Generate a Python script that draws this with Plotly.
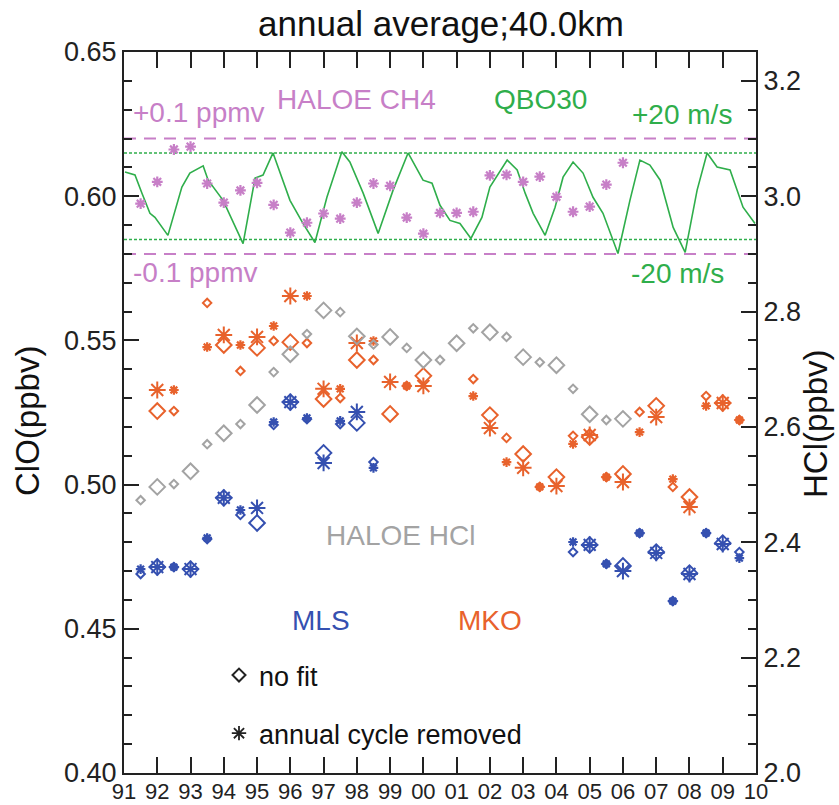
import plotly.graph_objects as go

# ---------------- data ----------------
# QBO30 zonal wind (m/s)
qbo_year = [1991.03, 1991.33, 1991.54, 1991.78, 1991.93, 1992.32, 1992.74, 1992.98, 1993.38, 1993.53,
            1993.98, 1994.58, 1994.94, 1995.18, 1995.48, 1995.99, 1996.38, 1996.74, 1997.10, 1997.55,
            1997.79, 1998.19, 1998.64, 1999.09, 1999.54, 1999.99, 2000.26, 2000.50, 2000.80, 2001.10,
            2001.43, 2001.76, 2002.00, 2002.52, 2002.82, 2003.06, 2003.30, 2003.66, 2003.96, 2004.20,
            2004.50, 2004.80, 2005.10, 2005.40, 2005.85, 2006.21, 2006.51, 2006.81, 2007.12, 2007.51,
            2007.87, 2008.23, 2008.53, 2008.83, 2009.22, 2009.61, 2009.97]
qbo_u = [11.2, 9.8, 1.4, -7.9, -9.8, -18.1, 4.2, 10.7, 14.0, 7.4,
         -1.9, -21.9, 8.4, 9.8, 20.0, -1.9, -12.6, -21.4, -0.5, 20.5,
         15.8, 1.4, -17.2, 2.8, 20.0, 7.4, 6.0, -4.2, -11.2, -12.6,
         -19.5, -9.8, 4.2, 16.7, 12.1, 1.4, -7.9, -18.1, -5.1, 8.8,
         15.8, 10.7, -0.5, -7.9, -26.5, -1.9, 16.7, 14.4, 7.4, -14.4,
         -26.0, 2.8, 20.0, 13.5, 12.1, -5.1, -12.6]

# HALOE CH4 anomaly (ppmv)
ch4_year = [1991.5, 1992.0, 1992.5, 1993.0, 1993.5, 1994.0, 1994.5, 1995.0, 1995.5, 1996.0,
            1996.5, 1997.0, 1997.5, 1998.0, 1998.5, 1999.0, 1999.5, 2000.0, 2000.5, 2001.0,
            2001.5, 2002.0, 2002.5, 2003.0, 2003.5, 2004.0, 2004.5, 2005.0, 2005.5, 2006.0]
ch4_anom = [-0.013, 0.025, 0.081, 0.086, 0.022, -0.011, 0.010, 0.023, -0.015, -0.063,
            -0.046, -0.030, -0.039, -0.011, 0.022, 0.018, -0.037, -0.065, -0.029, -0.029,
            -0.027, 0.036, 0.037, 0.025, 0.034, -0.001, -0.027, -0.018, 0.020, 0.058]

# HALOE HCl (ppbv, right axis)
hcl_year = [1992, 1993, 1994, 1995, 1996, 1997, 1998, 1999, 2000, 2001, 2002, 2003, 2004, 2005, 2006]
hcl_nofit = [2.496, 2.523, 2.589, 2.638, 2.726, 2.802, 2.757, 2.756, 2.716, 2.745, 2.764, 2.721, 2.707, 2.622, 2.614]
hcl_half_year = [1991.5, 1992.5, 1993.5, 1994.5, 1995.5, 1996.5, 1997.5, 1998.5, 1999.5, 2000.5,
                 2001.5, 2002.5, 2003.5, 2004.5, 2005.5]
hcl_half_nofit = [2.473, 2.501, 2.570, 2.605, 2.695, 2.761, 2.799, 2.743, 2.737, 2.716,
                  2.771, 2.756, 2.712, 2.666, 2.612]

# MLS ClO (ppbv, left axis)
mls_year = [1992, 1993, 1994, 1995, 1996, 1997, 1998, 2005, 2006, 2007, 2008, 2009]
mls_nofit = [0.4714, 0.4707, 0.4954, 0.4867, 0.5286, 0.5110, 0.5214, 0.4791, 0.4718, 0.4766, 0.4693, 0.4797]
mls_acr = [0.4714, 0.4707, 0.4954, 0.4919, 0.5286, 0.5075, 0.5252, 0.4791, 0.4700, 0.4763, 0.4690, 0.4794]
mls_half_year = [1991.5, 1992.5, 1993.5, 1994.5, 1995.5, 1996.5, 1997.5, 1998.5,
                 2004.5, 2005.5, 2006.5, 2007.5, 2008.5, 2009.5]
mls_half_nofit = [0.4690, 0.4714, 0.4811, 0.4895, 0.5207, 0.5227, 0.5210, 0.5078,
                  0.4766, 0.4725, 0.4832, 0.4596, 0.4832, 0.4766]
mls_half_acr = [0.4707, 0.4714, 0.4815, 0.4912, 0.5217, 0.5231, 0.5221, 0.5058,
                0.4801, 0.4725, 0.4832, 0.4596, 0.4832, 0.4745]

# MKO ClO (ppbv, left axis)
mko_year = [1992, 1994, 1995, 1996, 1997, 1998, 1999, 2000, 2002, 2003, 2004, 2005, 2006, 2007, 2008, 2009]
mko_nofit = [0.5255, 0.5484, 0.5474, 0.5494, 0.5297, 0.5432, 0.5245, 0.5377,
             0.5241, 0.5106, 0.5026, 0.5165, 0.5037, 0.5273, 0.4957, 0.5283]
mko_acr = [0.5328, 0.5519, 0.5512, 0.5654, 0.5332, 0.5491, 0.5356, 0.5342,
           0.5196, 0.5058, 0.4995, 0.5172, 0.5009, 0.5234, 0.4922, 0.5283]
mko_half_year = [1992.5, 1993.5, 1994.5, 1995.5, 1996.5, 1997.5, 1998.5, 1999.5,
                 2001.5, 2002.5, 2003.5, 2004.5, 2005.5, 2006.5, 2007.5, 2008.5, 2009.5]
mko_half_nofit = [0.5255, 0.5630, 0.5394, 0.5498, 0.5491, 0.5300, 0.5432, 0.5342,
                  0.5366, 0.5162, 0.4992, 0.5169, 0.5026, 0.5252, 0.4992, 0.5307, 0.5224]
mko_half_acr = [0.5328, 0.5477, 0.5484, 0.5550, 0.5654, 0.5332, 0.5498, 0.5342,
                0.5307, 0.5078, 0.4992, 0.5141, 0.5026, 0.5182, 0.5019, 0.5273, 0.5224]

x_tick_years = list(range(1991, 2011))
x_tick_labels = ["91", "92", "93", "94", "95", "96", "97", "98", "99", "00",
                 "01", "02", "03", "04", "05", "06", "07", "08", "09", "10"]

# overlay scaling of the CH4 / QBO panel onto the ClO axis
PANEL_CENTER = 0.60
CH4_SCALE = 0.2        # ClO units per ppmv   (0.1 ppmv -> 0.02)
QBO_SCALE = 0.00075    # ClO units per m/s    (20 m/s -> 0.015)
CH4_REF = 0.1
QBO_REF = 20.0

# ---------------- style ----------------
FONT = "Liberation Sans, Arial, Helvetica, sans-serif"
AX = "#222222"
PINK = "#c77fc7"
GREEN = "#2fae4b"
ORANGE = "#e8622c"
BLUE = "#3550b0"
GRAY = "#a3a3a3"

fig = go.Figure()

# QBO line
fig.add_trace(go.Scatter(x=qbo_year, y=[PANEL_CENTER + u * QBO_SCALE for u in qbo_u],
                         mode="lines", line=dict(color=GREEN, width=1.6), showlegend=False))
# CH4 markers
fig.add_trace(go.Scatter(x=ch4_year, y=[PANEL_CENTER + c * CH4_SCALE for c in ch4_anom],
                         mode="markers", showlegend=False,
                         marker=dict(symbol="asterisk-open", size=9, color=PINK,
                                     line=dict(color=PINK, width=2.2))))


def add_series(xs, ys, color, symbol, size, lw, yaxis="y"):
    fig.add_trace(go.Scatter(x=xs, y=ys, mode="markers", yaxis=yaxis, showlegend=False,
                             marker=dict(symbol=symbol, size=size, color=color,
                                         line=dict(color=color, width=lw))))


# HALOE HCl (right axis)
add_series(hcl_year, hcl_nofit, GRAY, "diamond-open", 12, 2, "y2")
add_series(hcl_half_year, hcl_half_nofit, GRAY, "diamond-open", 6.5, 2, "y2")

# MKO
add_series(mko_year, mko_nofit, ORANGE, "diamond-open", 12, 2)
add_series(mko_year, mko_acr, ORANGE, "asterisk-open", 14, 2)
add_series(mko_half_year, mko_half_nofit, ORANGE, "diamond-open", 6.5, 2)
add_series(mko_half_year, mko_half_acr, ORANGE, "asterisk-open", 8, 2.2)

# MLS
add_series(mls_year, mls_nofit, BLUE, "diamond-open", 12, 2)
add_series(mls_year, mls_acr, BLUE, "asterisk-open", 14, 2)
add_series(mls_half_year, mls_half_nofit, BLUE, "diamond-open", 6.5, 2)
add_series(mls_half_year, mls_half_acr, BLUE, "asterisk-open", 8, 2.2)

# legend entries (symbol key)
fig.add_trace(go.Scatter(x=[None], y=[None], mode="markers", name="no fit", legendgroup="a",
                         marker=dict(symbol="diamond-open", size=10, color=AX, line=dict(color=AX, width=2))))
fig.add_trace(go.Scatter(x=[None], y=[None], mode="markers", name="annual cycle removed", legendgroup="b",
                         marker=dict(symbol="asterisk-open", size=12, color=AX, line=dict(color=AX, width=1.8))))

# reference lines
shapes = []
for s in (1, -1):
    shapes.append(dict(type="line", xref="paper", x0=0, x1=1, yref="y",
                       y0=PANEL_CENTER + s * CH4_REF * CH4_SCALE, y1=PANEL_CENTER + s * CH4_REF * CH4_SCALE,
                       line=dict(color=PINK, width=2, dash="12px,8px"), layer="below"))
    shapes.append(dict(type="line", xref="paper", x0=0, x1=1, yref="y",
                       y0=PANEL_CENTER + s * QBO_REF * QBO_SCALE, y1=PANEL_CENTER + s * QBO_REF * QBO_SCALE,
                       line=dict(color=GREEN, width=1.6, dash="3px,2px"), layer="below"))

# plot-area edges in page pixels (body margin is removed below)
L, R, T, B = 124, 756, 52, 773


def px(xp):
    return (xp - L) / (R - L)


def py(yp):
    return (B - yp) / (B - T)


def ann(text, x, y, color, size=28, xanchor="center", angle=0):
    return dict(text=text, x=px(x), y=py(y), xref="paper", yref="paper", showarrow=False,
                xanchor=xanchor, yanchor="middle", textangle=angle,
                font=dict(family=FONT, size=size, color=color))


annotations = [
    ann("annual average;40.0km", 441, 23, "#111111", size=35),
    ann("+0.1 ppmv", 131, 113, PINK, xanchor="left"),
    ann("HALOE CH4", 356, 100, PINK),
    ann("QBO30", 540, 100, GREEN),
    ann("+20 m/s", 630, 115, GREEN, xanchor="left"),
    ann("-0.1 ppmv", 131, 272, PINK, xanchor="left"),
    ann("-20 m/s", 629, 273, GREEN, xanchor="left"),
    ann("HALOE HCl", 400, 535, GRAY),
    ann("MLS", 321, 620, BLUE),
    ann("MKO", 490, 620, ORANGE),
    ann("ClO(ppbv)", 27, 421, "#111111", size=33, angle=-90),
    ann("HCl(ppbv)", 815, 424, "#111111", size=33, angle=-90),
]

fig.update_layout(
    width=839, height=805,
    margin=dict(l=L, r=839 - R, t=T, b=805 - B, autoexpand=False),
    paper_bgcolor="white", plot_bgcolor="white",
    font=dict(family=FONT, color=AX),
    shapes=shapes, annotations=annotations,
    hovermode=False,
    showlegend=True,
    legend=dict(x=px(219), y=py(651), xanchor="left", yanchor="top",
                font=dict(family=FONT, size=27, color="#111111"),
                bgcolor="rgba(0,0,0,0)", tracegroupgap=20, traceorder="grouped",
                itemsizing="trace"),
    xaxis=dict(range=[1991, 2010], tickvals=x_tick_years, ticktext=x_tick_labels,
               ticks="inside", ticklen=16, tickwidth=2, tickcolor=AX, automargin=False,
               ticklabelstandoff=-2,
               showline=True, linewidth=2, linecolor=AX, mirror="ticks",
               showgrid=False, zeroline=False,
               tickfont=dict(family=FONT, size=22, color=AX)),
    yaxis=dict(range=[0.40, 0.65], tick0=0.40, dtick=0.05, tickformat=".2f",
               ticks="inside", ticklen=15, tickwidth=2, tickcolor=AX, automargin=False,
               minor=dict(dtick=0.01, ticks="inside", ticklen=8, tickwidth=2, tickcolor=AX, showgrid=False),
               showline=True, linewidth=2, linecolor=AX, mirror=False,
               showgrid=False, zeroline=False,
               tickfont=dict(family=FONT, size=27, color=AX)),
    yaxis2=dict(range=[2.0, 3.25], tick0=2.0, dtick=0.2, tickformat=".1f",
                overlaying="y", side="right", automargin=False,
                ticks="inside", ticklen=15, tickwidth=2, tickcolor=AX,
                minor=dict(dtick=0.05, ticks="inside", ticklen=8, tickwidth=2, tickcolor=AX, showgrid=False),
                showline=True, linewidth=2, linecolor=AX,
                showgrid=False, zeroline=False,
                tickfont=dict(family=FONT, size=27, color=AX)),
)

fig.write_html("out.html", config={"displayModeBar": False},
               post_script="document.body.style.margin='0px';")
